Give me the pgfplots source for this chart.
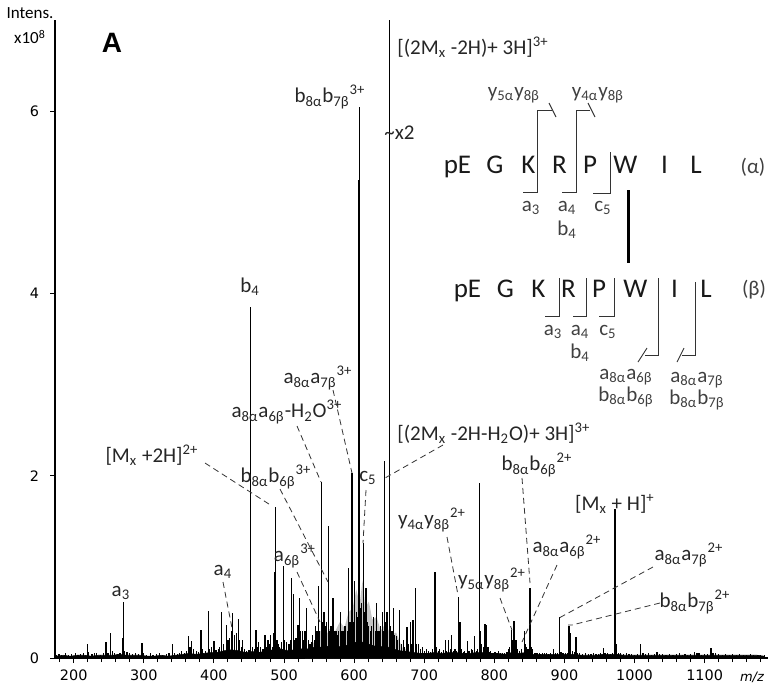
\documentclass[border=0pt]{standalone}
\usepackage{fontspec}
\usepackage{pgfplots}
\pgfplotsset{compat=1.18}
\setmainfont{Carlito}
\newfontfamily\dejavu{DejaVu Sans}
\newfontfamily\arialbf{Liberation Sans}
\newcommand\lo[1]{\textsubscript{#1}}
\newcommand\hi[1]{\textsuperscript{#1}}

\pgfplotstableread{
mz I
175 0.03
179 0.04
183 0.03
188 0.05
192 0.03
197 0.04
202 0.06
206 0.03
210 0.04
214 0.05
219.3 0.15
221 0.07
226 0.04
230 0.05
233 0.06
238 0.03
242 0.05
246 0.18
249 0.06
252.7 0.28
255 0.08
258 0.06
262 0.04
266 0.05
269.8 0.22
270.6 0.61
273 0.08
276 0.07
280 0.06
284 0.04
288 0.05
292 0.04
297.5 0.17
300 0.05
304 0.03
309 0.05
313 0.03
318 0.04
322 0.05
327 0.03
332 0.04
336 0.05
341 0.15
344 0.05
348 0.04
351 0.06
354 0.08
358 0.05
361 0.08
363.5 0.24
366 0.12
368 0.19
371 0.1
375 0.08
378 0.07
381.6 0.31
384 0.1
388 0.08
391.7 0.52
394 0.1
397 0.12
400 0.19
403 0.09
406 0.1
408 0.12
411 0.5
414 0.15
418 0.36
420 0.2
422 0.22
425 0.3
427 0.49
429 0.25
432 0.28
434.7 0.43
437 0.2
439 0.12
441 0.2
444 0.1
447 0.08
450 0.09
452.4 3.85
455 0.12
458 0.1
460 0.31
462 0.12
464 0.18
467 0.12
470 0.1
473 0.25
475 0.12
477 0.2
479 0.15
481 0.25
483 0.12
485 0.28
487 0.94
487.8 1.66
490 0.2
492 0.15
494 0.12
496 0.18
499.5 1.01
501 0.2
504 0.18
507 0.15
509 0.2
511 0.88
513 0.7
515 0.2
517 0.22
520 0.36
522 0.66
524 0.3
526 0.3
528 0.2
530 0.3
532.3 0.55
535 0.2
537 0.15
539 0.18
541 0.25
543 0.2
545 0.35
547 0.3
549 0.79
551 0.3
553.7 1.93
555 0.4
557 0.5
559 0.35
561 0.4
563 1.45
565 0.3
567 0.35
570 0.66
572 0.3
574 0.3
576 0.25
578 0.3
580 0.5
582 0.3
584 0.3
586 0.35
588 0.35
590 0.3
591.7 0.99
594 0.4
595.5 0.35
597 2.03
599 0.4
601 0.85
603 0.5
605 0.45
606.8 5.25
607.4 6.05
609 0.55
611 0.6
613 1.26
615 0.5
617 0.77
619 0.4
621 0.35
623 0.3
625 0.35
628 0.45
630 0.3
632 0.6
634 0.3
636 0.3
638 0.35
640 0.5
641.5 0.3
643 2.16
645 0.4
647 0.5
650 7.0
652 0.35
654 0.3
656 0.55
658 0.25
660 0.24
662 0.2
665 0.53
668 0.15
670 0.2
672 0.12
675.5 0.34
678 0.15
680 0.4
682 0.15
684 0.42
687 0.77
689 0.15
692 0.15
695 0.1
697 0.12
700 0.08
703 0.1
706 0.08
709 0.07
712 0.1
715.3 0.94
717 0.12
720 0.08
722 0.1
725 0.07
728 0.09
730.6 0.2
732 0.08
734.5 0.2
737 0.1
739 0.25
742 0.08
744 0.1
746 0.08
748.6 0.67
751 0.4
753 0.1
756 0.07
758 0.08
761.4 0.19
764 0.08
767 0.1
769 0.09
771.4 0.24
774 0.08
776 0.1
778.5 1.92
780 0.3
782 0.15
784 0.12
786.6 0.37
789 0.36
791 0.12
793 0.07
795 0.08
798 0.06
801 0.07
803 0.06
806 0.08
809 0.05
812 0.05
815 0.06
818 0.07
820 0.1
822 0.12
824.7 0.31
826 0.2
828 0.41
831 0.2
833 0.1
836 0.08
839 0.1
842.5 0.3
844 0.15
846 0.12
848 0.1
851 0.77
853 0.12
855 0.1
858 0.06
861 0.05
864 0.05
866 0.04
869 0.05
872 0.05
874 0.05
877 0.04
880 0.06
884 0.1
887 0.05
890 0.05
892.7 0.45
895 0.07
898 0.05
901 0.05
904 0.06
906.5 0.35
908.5 0.28
911 0.08
914 0.07
916.5 0.23
919 0.06
922 0.05
926 0.04
930 0.05
934 0.04
938 0.04
942 0.05
945 0.04
949 0.04
952 0.05
955.4 0.11
958 0.05
962 0.06
966 0.04
969 0.05
972 1.63
974 0.15
977 0.06
980 0.06
984 0.04
988 0.05
992 0.04
996 0.04
1000 0.03
1004 0.04
1009 0.15
1012 0.05
1016 0.04
1020 0.05
1024 0.03
1028 0.04
1032 0.07
1036 0.04
1040 0.04
1045 0.03
1050 0.04
1055 0.03
1060 0.04
1064 0.05
1068 0.03
1072 0.04
1076 0.03
1080 0.04
1086 0.07
1089 0.05
1092 0.05
1096 0.03
1100 0.04
1104 0.04
1109 0.11
1112 0.05
1115 0.05
1120 0.04
1125 0.03
1130 0.04
1135 0.03
1140 0.04
1145 0.03
1150 0.04
1155 0.03
1160 0.03
1165 0.04
1170 0.03
1175 0.03
1180 0.03
1185 0.03
}\peaks

\begin{document}
\begin{tikzpicture}
\path[use as bounding box] (0,0) rectangle (388pt,-346.5pt);
\begin{axis}[
  at={(27.5pt,-329pt)}, anchor=south west,
  scale only axis, width=356.5pt, height=319pt,
  xmin=173.3, xmax=1190.4, ymin=0, ymax=7,
  axis x line*=bottom, axis y line*=left,
  tick align=outside,
  xtick={200,300,...,1100}, minor xtick={180,200,...,1180},
  ytick={0,2,4,6},
  major tick length=2.5pt, minor tick length=2pt,
  tick style={black, line width=0.5pt},
  axis line style={line width=0.6pt},
  clip=false,
  ticklabel style={font=\dejavu\fontsize{7.2}{8}\selectfont},
  yticklabel style={xshift=-2pt},
  /pgf/number format/assume math mode=true,
  /pgf/number format/1000 sep={},
]
% haze of unresolved signal
\addplot[fill=gray!45, draw=none] coordinates {
(530,0) (538,0.12) (545,0.2) (552,0.3) (558,0.22) (565,0.32) (572,0.28) (580,0.4)
(586,0.33) (592,0.5) (598,0.55) (603,0.75) (608,0.6) (612,0.85) (616,0.55) (621,0.62)
(626,0.42) (632,0.45) (638,0.3) (645,0.38) (652,0.25) (660,0.28) (668,0.12) (680,0.06) (700,0)} \closedcycle;
% noise floor
\addplot[fill=black, draw=black, line width=0.3pt] coordinates {
(175,0.02) (185,0.03) (195,0.02) (205,0.03) (215,0.03) (225,0.02) (235,0.03) (245,0.03)
(255,0.03) (265,0.04) (275,0.03) (285,0.03) (295,0.03) (305,0.02) (315,0.02) (325,0.03)
(335,0.02) (345,0.03) (355,0.04) (365,0.05) (375,0.04) (385,0.05) (395,0.06) (405,0.06)
(415,0.08) (425,0.09) (435,0.08) (445,0.06) (455,0.07) (465,0.06) (475,0.08) (485,0.09)
(495,0.1) (505,0.08) (515,0.09) (525,0.1) (535,0.1) (545,0.12) (555,0.12) (565,0.13)
(575,0.12) (585,0.13) (595,0.15) (605,0.18) (615,0.17) (625,0.14) (635,0.12) (645,0.13)
(655,0.1) (665,0.08) (675,0.07) (685,0.06) (695,0.05) (705,0.05) (715,0.06) (725,0.05)
(735,0.06) (745,0.06) (755,0.05) (765,0.05) (775,0.06) (785,0.06) (795,0.05) (805,0.05)
(815,0.04) (825,0.06) (835,0.05) (845,0.06) (855,0.04) (865,0.04) (875,0.04) (885,0.04)
(895,0.04) (905,0.04) (915,0.04) (925,0.03) (935,0.03) (945,0.03) (955,0.04) (965,0.04)
(975,0.04) (985,0.03) (995,0.03) (1005,0.03) (1015,0.03) (1025,0.03) (1035,0.03) (1045,0.03)
(1055,0.03) (1065,0.03) (1075,0.03) (1085,0.03) (1095,0.03) (1105,0.03) (1115,0.03) (1125,0.03)
(1135,0.03) (1145,0.03) (1155,0.03) (1165,0.03) (1175,0.03) (1185,0.02)} \closedcycle;
\addplot[ycomb, black, line width=0.6pt, mark=none] table[x=mz, y=I] {\peaks};
\end{axis}

\begin{scope}[x=0.5pt, y=-0.5pt,
  lab/.style={font=\fontsize{10.5}{12}\selectfont, inner sep=0pt, text=black!85},
  frag/.style={font=\fontsize{10.5}{12}\selectfont, inner sep=0pt, text=black!75},
  aa/.style={font=\fontsize{13.5}{15}\selectfont, inner sep=0pt, anchor=base, text=black!90},
  ld/.style={densely dashed, line width=0.4pt, black!80},
  fl/.style={line width=0.45pt, black!80}]
% axis titles
\node[inner sep=0pt, font=\fontsize{8.5}{10}\selectfont] at (30,13) {Intens.};
\node[inner sep=0pt, font=\fontsize{8.5}{10}\selectfont] at (30,37) {x10\hi{8}};
\node[inner sep=0pt, font=\arialbf\bfseries\fontsize{14}{16}\selectfont] at (112,43) {A};
\node[inner sep=0pt, font=\dejavu\itshape\fontsize{6.5}{8}\selectfont] at (752,677) {m/z};

% peak labels
\node[lab] at (121,593) {a\lo{3}};
\node[lab] at (223,572) {a\lo{4}};
\node[lab] at (250,287) {b\lo{4}};
\node[lab] at (152,455) {[M\lo{x} +2H]\hi{2+}};
\node[lab] at (276,477) {b\lo{8α}b\lo{6β}\hi{3+}};
\node[lab] at (295,556) {a\lo{6β}\hi{3+}};
\node[lab] at (287,412) {a\lo{8α}a\lo{6β}-H\lo{2}O\hi{3+}};
\node[lab] at (318,378) {a\lo{8α}a\lo{7β}\hi{3+}};
\node[lab] at (330,97) {b\lo{8α}b\lo{7β}\hi{3+}};
\node[lab] at (368,478) {c\lo{5}};
\node[lab, anchor=west] at (397,47) {[(2M\lo{x} -2H)+ 3H]\hi{3+}};
\node[lab, anchor=west] at (384,133) {\textasciitilde x2};
\node[lab, anchor=west] at (397,433) {[(2M\lo{x} -2H-H\lo{2}O)+ 3H]\hi{3+}};
\node[lab] at (537,465) {b\lo{8α}b\lo{6β}\hi{2+}};
\node[lab] at (615,504) {[M\lo{x} + H]\hi{+}};
\node[lab] at (432,520) {y\lo{4α}y\lo{8β}\hi{2+}};
\node[lab] at (567,547) {a\lo{8α}a\lo{6β}\hi{2+}};
\node[lab] at (492,580) {y\lo{5α}y\lo{8β}\hi{2+}};
\node[lab] at (689,555) {a\lo{8α}a\lo{7β}\hi{2+}};
\node[lab] at (695,602) {b\lo{8α}b\lo{7β}\hi{2+}};

% leader lines
\draw[ld] (223,582) -- (232,628);
\draw[ld] (205,463) -- (272,506);
\draw[ld] (280,489) -- (328,582);
\draw[ld] (297,572) -- (320,622);
\draw[ld] (297,426) -- (321,482);
\draw[ld] (333,390) -- (352,473);
\draw[ld] (366,490) -- (363,543);
\draw[ld] (443,445) -- (385,478);
\draw[ld] (522,478) -- (530,583);
\draw[ld] (447,537) -- (458,595);
\draw[ld] (557,565) -- (522,642);
\draw[ld] (500,598) -- (512,630);
\draw[ld] (653,567) -- (559,618);
\draw[ld] (660,603) -- (572,625) -- (568,625);

% peptide alpha
\node[aa] at (457.5,173) {pE};
\node[aa] at (495,173) {G};
\node[aa] at (528.5,173) {K};
\node[aa] at (559.5,173) {R};
\node[aa] at (590,173) {P};
\node[aa] at (625.5,173) {W};
\node[aa] at (664.5,173) {I};
\node[aa] at (696,173) {L};
\node[frag] at (753,167) {(α)};
\draw[fl] (552,110) -- (537,110) -- (537,192) -- (523,192);
\draw[fl] (549,103) -- (556,117);
\draw[fl] (590,110) -- (576,110) -- (576,192) -- (562,192);
\draw[fl] (588,103) -- (595,117);
\draw[fl] (610,152) -- (610,193) -- (593,193);
\node[frag] at (514,95) {y\lo{5α}y\lo{8β}};
\node[frag] at (598,95) {y\lo{4α}y\lo{8β}};
\node[frag] at (531,208) {a\lo{3}};
\node[frag] at (567,208) {a\lo{4}};
\node[frag] at (567,230) {b\lo{4}};
\node[frag] at (603,208) {c\lo{5}};
% crosslink
\draw[line width=1.5pt, black] (628,190) -- (628,263);
% peptide beta
\node[aa] at (467.5,297) {pE};
\node[aa] at (505.5,297) {G};
\node[aa] at (538.5,297) {K};
\node[aa] at (568.5,297) {R};
\node[aa] at (599,297) {P};
\node[aa] at (635.5,297) {W};
\node[aa] at (674.5,297) {I};
\node[aa] at (706,297) {L};
\node[frag] at (754,290) {(β)};
\draw[fl] (559,278) -- (559,316) -- (545,316);
\draw[fl] (586,278) -- (586,316) -- (573,316);
\draw[fl] (614,278) -- (614,316) -- (599,316);
\draw[fl] (658,278) -- (658,355) -- (645,355);
\draw[fl] (638,362) -- (647,348);
\draw[fl] (695,282) -- (695,355) -- (682,355);
\draw[fl] (677,362) -- (684,348);
\node[frag] at (553,332) {a\lo{3}};
\node[frag] at (580,332) {a\lo{4}};
\node[frag] at (580,353) {b\lo{4}};
\node[frag] at (608,332) {c\lo{5}};
\node[frag] at (626,377) {a\lo{8α}a\lo{6β}};
\node[frag] at (626,397) {b\lo{8α}b\lo{6β}};
\node[frag] at (697,380) {a\lo{8α}a\lo{7β}};
\node[frag] at (697,400) {b\lo{8α}b\lo{7β}};
\end{scope}
\end{tikzpicture}
\end{document}
